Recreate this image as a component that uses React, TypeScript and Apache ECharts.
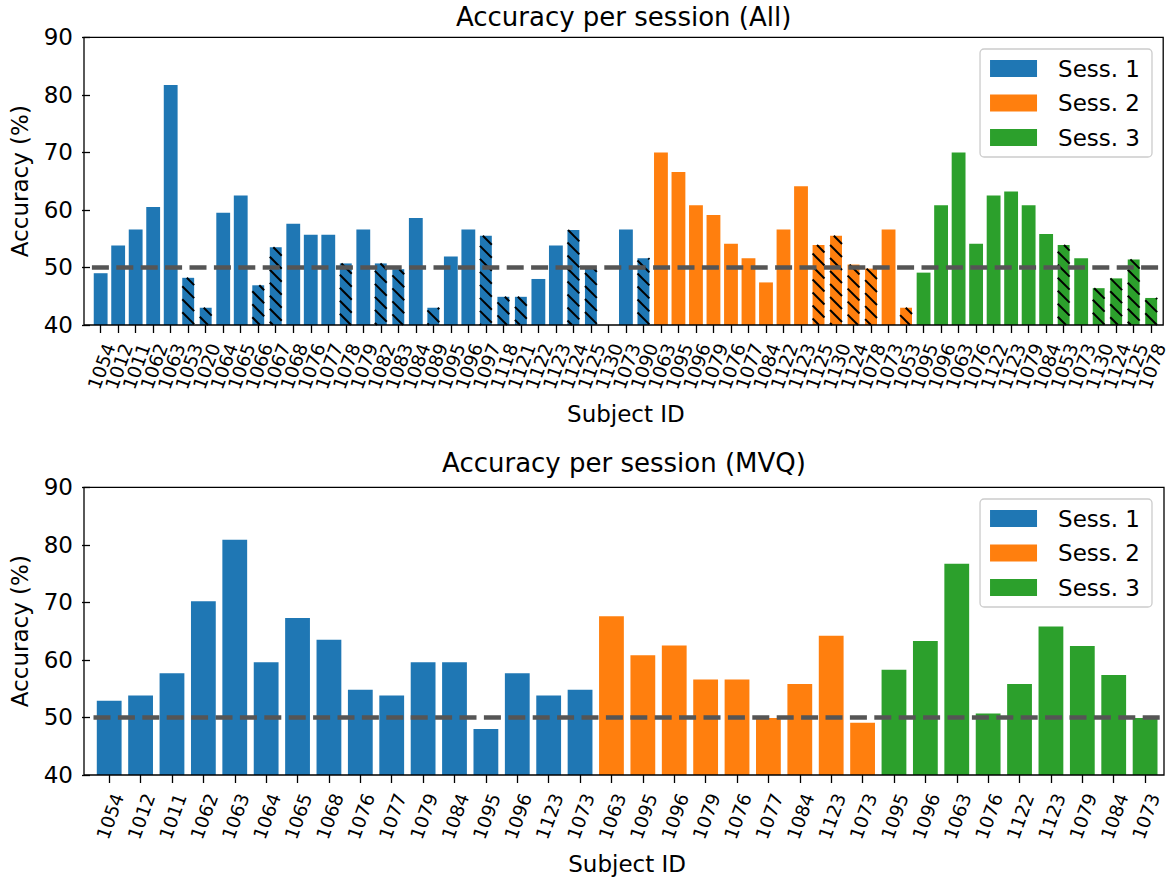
import React, { useEffect, useRef } from 'react';
import * as echarts from 'echarts';

// ---------- Data: "All" panel ----------
const allS1Ids = ['1054', '1012', '1011', '1062', '1063', '1053', '1020', '1064', '1065', '1066', '1067', '1068', '1076', '1077', '1078', '1079', '1082', '1083', '1084', '1089', '1095', '1096', '1097', '1118', '1121', '1122', '1123', '1124', '1125', '1130', '1073', '1090'];
const allS1Acc = [49.0, 53.8, 56.6, 60.5, 81.7, 48.2, 43.0, 59.5, 62.5, 46.9, 53.5, 57.6, 55.7, 55.7, 50.7, 56.6, 50.7, 49.7, 58.6, 43.0, 51.9, 56.6, 55.5, 44.9, 44.9, 48.0, 53.8, 56.5, 49.8, null, 56.6, 51.6];
const allS1Hatch = [0, 0, 0, 0, 0, 1, 1, 0, 0, 1, 1, 0, 0, 0, 1, 0, 1, 1, 0, 1, 0, 0, 1, 1, 1, 0, 0, 1, 1, 0, 0, 1];

const allS2Ids = ['1063', '1095', '1096', '1079', '1076', '1077', '1084', '1122', '1123', '1125', '1130', '1124', '1078', '1073', '1053'];
const allS2Acc = [70.0, 66.6, 60.8, 59.1, 54.1, 51.6, 47.4, 56.6, 64.1, 53.9, 55.5, 50.5, 49.8, 56.6, 43.0];
const allS2Hatch = [0, 0, 0, 0, 0, 0, 0, 0, 0, 1, 1, 1, 1, 0, 1];

const allS3Ids = ['1095', '1096', '1063', '1076', '1122', '1123', '1079', '1084', '1053', '1073', '1130', '1124', '1125', '1078'];
const allS3Acc = [49.1, 60.8, 70.0, 54.1, 62.5, 63.2, 60.8, 55.8, 53.9, 51.6, 46.4, 48.1, 51.4, 44.7];
const allS3Hatch = [0, 0, 0, 0, 0, 0, 0, 0, 1, 0, 1, 1, 1, 1];

// ---------- Data: "MVQ" panel ----------
const mvqS1Ids = ['1054', '1012', '1011', '1062', '1063', '1064', '1065', '1068', '1076', '1077', '1079', '1084', '1095', '1096', '1123', '1073'];
const mvqS1Acc = [52.9, 53.8, 57.7, 70.2, 80.9, 59.6, 67.3, 63.5, 54.8, 53.8, 59.6, 59.6, 48.0, 57.7, 53.8, 54.8];

const mvqS2Ids = ['1063', '1095', '1096', '1079', '1076', '1077', '1084', '1123', '1073'];
const mvqS2Acc = [67.6, 60.8, 62.5, 56.6, 56.6, 49.9, 55.8, 64.2, 49.1];

const mvqS3Ids = ['1095', '1096', '1063', '1076', '1122', '1123', '1079', '1084', '1073'];
const mvqS3Acc = [58.3, 63.3, 76.7, 50.7, 55.8, 65.8, 62.4, 57.4, 49.9];

// ---------- Labels / axis ----------
const SESSION_NAMES = ['Sess. 1', 'Sess. 2', 'Sess. 3'];
const TITLES = ['Accuracy per session (All)', 'Accuracy per session (MVQ)'];
const X_NAME = 'Subject ID';
const Y_NAME = 'Accuracy (%)';
const Y_MIN = 40;
const Y_MAX = 90;
const Y_STEP = 10;
const CHANCE = 50;

// ---------- Styles ----------
const COLORS = ['#1f77b4', '#ff7f0e', '#2ca02c'];
const FONT = 'DejaVu Sans';
const W = 1170;
const H = 882;
const SOLID_W = 0.79;
const HATCH_W = 0.68;
const HATCH_SPACING = 13;

type Sess = { ids: string[]; acc: (number | null)[]; hatch?: number[] };

function buildPanel(sessions: Sess[]) {
  const categories: string[] = [];
  const solid: (number | null)[][] = sessions.map(() => []);
  const hatched: number[][] = [];
  sessions.forEach((s, si) => {
    s.ids.forEach((id, i) => {
      const idx = categories.length;
      categories.push(id);
      const v = s.acc[i];
      const h = s.hatch ? s.hatch[i] : 0;
      sessions.forEach((_, sj) => solid[sj].push(sj === si && !h ? v : null));
      if (h && v != null) hatched.push([idx, v, si]);
    });
  });
  return { categories, solid, hatched };
}

const PANELS = [
  {
    data: buildPanel([
      { ids: allS1Ids, acc: allS1Acc, hatch: allS1Hatch },
      { ids: allS2Ids, acc: allS2Acc, hatch: allS2Hatch },
      { ids: allS3Ids, acc: allS3Acc, hatch: allS3Hatch },
    ]),
    frame: { x: 84, y: 37.3, w: 1079.2, h: 287.7 },
    gridLeft: 85.9,
    gridRightEdge: 1163.1,
    titleTop: 4,
    legendTop: 49,
  },
  {
    data: buildPanel([
      { ids: mvqS1Ids, acc: mvqS1Acc },
      { ids: mvqS2Ids, acc: mvqS2Acc },
      { ids: mvqS3Ids, acc: mvqS3Acc },
    ]),
    frame: { x: 84, y: 487.3, w: 1080, h: 287.7 },
    gridLeft: 87.5,
    gridRightEdge: 1160.8,
    titleTop: 450,
    legendTop: 499,
  },
];

function hatchRenderItem(params: any, api: any) {
  const idx = api.value(0);
  const val = api.value(1);
  const sess = api.value(2);
  const top = api.coord([idx, val]);
  const base = api.coord([idx, Y_MIN]);
  const band = api.size([1, 0])[0];
  const w = band * HATCH_W;
  const x0 = top[0] - w / 2;
  const x1 = top[0] + w / 2;
  const y0 = top[1];
  const y1 = base[1];
  const children: any[] = [
    { type: 'rect', shape: { x: x0, y: y0, width: w, height: y1 - y0 }, style: { fill: COLORS[sess] } },
  ];
  const s = HATCH_SPACING;
  // lines of the form x - y = c, running from top-left to bottom-right ("\")
  const cStart = Math.ceil((x0 - y1) / s) * s;
  const cEnd = x1 - y0;
  for (let c = cStart; c <= cEnd; c += s) {
    const xa = Math.max(x0, y0 + c);
    const xb = Math.min(x1, y1 + c);
    if (xb - xa > 0.3) {
      children.push({
        type: 'line',
        shape: { x1: xa, y1: xa - c, x2: xb, y2: xb - c },
        style: { stroke: '#000', lineWidth: 2 },
      });
    }
  }
  return { type: 'group', children };
}

function buildOption() {
  const tickStyle = { color: '#000', width: 1.3 };
  const grid: any[] = [];
  const xAxis: any[] = [];
  const yAxis: any[] = [];
  const series: any[] = [];
  const title: any[] = [];
  const legend: any[] = [];
  const graphic: any[] = [];

  PANELS.forEach((p, i) => {
    const f = p.frame;
    grid.push({
      left: p.gridLeft,
      width: p.gridRightEdge - p.gridLeft,
      top: f.y,
      height: f.h,
      containLabel: false,
    });
    xAxis.push({
      type: 'category',
      gridIndex: i,
      data: p.data.categories,
      boundaryGap: true,
      axisLine: { show: false },
      axisTick: { show: true, alignWithLabel: true, length: 8, lineStyle: tickStyle },
      axisLabel: {
        interval: 0,
        rotate: 70,
        verticalAlign: 'top',
        margin: 16,
        fontSize: 18.5,
        color: '#000',
        fontFamily: FONT,
      },
      splitLine: { show: false },
      name: X_NAME,
      nameLocation: 'middle',
      nameGap: 77,
      nameTextStyle: { fontSize: 23, color: '#000', fontFamily: FONT },
    });
    yAxis.push({
      type: 'value',
      gridIndex: i,
      min: Y_MIN,
      max: Y_MAX,
      interval: Y_STEP,
      offset: p.gridLeft - f.x,
      axisLine: { show: false },
      axisTick: { show: true, length: 8, lineStyle: tickStyle },
      axisLabel: { fontSize: 23, margin: 17, color: '#000', fontFamily: FONT },
      splitLine: { show: false },
      name: Y_NAME,
      nameLocation: 'middle',
      nameGap: 59,
      nameTextStyle: { fontSize: 23, color: '#000', fontFamily: FONT },
    });
    p.data.solid.forEach((vals, si) => {
      const s: any = {
        type: 'bar',
        name: SESSION_NAMES[si],
        xAxisIndex: i,
        yAxisIndex: i,
        data: vals,
        barWidth: `${SOLID_W * 100}%`,
        barGap: '-100%',
        itemStyle: { color: COLORS[si] },
        emphasis: { disabled: true },
        z: 2,
      };
      if (si === p.data.solid.length - 1) {
        s.markLine = {
          silent: true,
          symbol: ['none', 'none'],
          label: { show: false },
          lineStyle: { color: '#555555', width: 4.5, type: [17, 7.4], opacity: 1 },
          emphasis: { disabled: true },
          data: [{ yAxis: CHANCE }],
          z: 10,
        };
      }
      series.push(s);
    });
    if (p.data.hatched.length) {
      series.push({
        type: 'custom',
        name: 'hatched',
        xAxisIndex: i,
        yAxisIndex: i,
        data: p.data.hatched,
        encode: { x: 0, y: 1 },
        renderItem: hatchRenderItem,
        z: 3,
        silent: true,
      });
    }
    title.push({
      text: TITLES[i],
      left: f.x + f.w / 2,
      top: p.titleTop,
      textAlign: 'center',
      padding: 0,
      textStyle: { fontSize: 26, fontWeight: 'normal', color: '#000', fontFamily: FONT },
    });
    legend.push({
      data: SESSION_NAMES,
      orient: 'vertical',
      right: 18,
      top: p.legendTop,
      itemWidth: 47,
      itemHeight: 17,
      itemGap: 11.5,
      icon: 'rect',
      padding: [8, 12, 8, 10],
      borderColor: '#cccccc',
      borderWidth: 1.3,
      borderRadius: 4,
      backgroundColor: 'rgba(255,255,255,0.8)',
      selectedMode: false,
      textStyle: { fontSize: 23, color: '#000', fontFamily: FONT, padding: [0, 0, 0, 16] },
    });
    graphic.push({
      type: 'rect',
      silent: true,
      z: 100,
      shape: { x: f.x, y: f.y, width: f.w, height: f.h },
      style: { fill: 'none', stroke: '#000', lineWidth: 1.3 },
    });
  });

  return {
    animation: false,
    backgroundColor: '#ffffff',
    textStyle: { fontFamily: FONT },
    title,
    legend,
    grid,
    xAxis,
    yAxis,
    series,
    graphic,
  };
}

export default function App() {
  const ref = useRef<HTMLDivElement>(null);
  useEffect(() => {
    document.body.style.margin = '0';
    if (!ref.current) return;
    const chart = echarts.init(ref.current, undefined, { renderer: 'svg', width: W, height: H });
    chart.setOption(buildOption() as any);
    return () => chart.dispose();
  }, []);
  return <div ref={ref} style={{ width: W, height: H }} />;
}
